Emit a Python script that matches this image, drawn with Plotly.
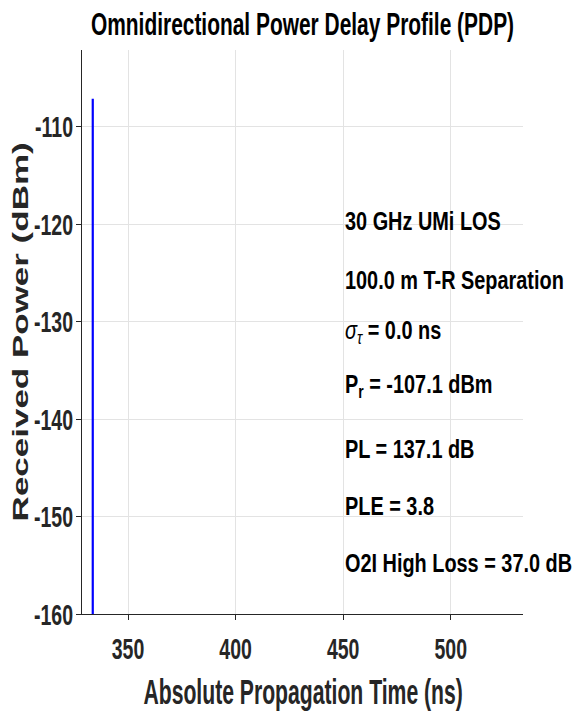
import plotly.graph_objects as go

# Multipath components of the omnidirectional PDP
delay_ns = [333.6]
power_dbm = [-107.1]
floor_dbm = -160.0

# Axis ticks and ranges
x_ticks = [350, 400, 450, 500]
y_ticks = [-160, -150, -140, -130, -120, -110]
y_tick_labels = ["-160", "-150", "-140", "-130", "-120", "-110"]
x_range = [328.6, 533.6]
y_range = [-160.0, -102.1]

# Link summary printed inside the axes
info_lines = [
    "30 GHz UMi LOS",
    "100.0 m T-R Separation",
    '<span style="font-weight:normal"><i>σ</i><sub><i>τ</i></sub></span> = 0.0 ns',
    "P<sub>r</sub> = -107.1 dBm",
    "PL = 137.1 dB",
    "PLE = 3.8",
    "O2I High Loss = 37.0 dB",
]
info_y = [0.697, 0.5925, 0.5, 0.405, 0.2933, 0.1922, 0.0912]

FONT = "Liberation Sans, Arial, Helvetica, sans-serif"
INK = "#262626"
GRID = "#e3e3e3"

fig = go.Figure()
for d, p in zip(delay_ns, power_dbm):
    fig.add_trace(go.Scatter(
        x=[d, d], y=[floor_dbm, p], mode="lines",
        line=dict(color="#0000ff", width=2.2),
        hoverinfo="skip", showlegend=False,
    ))

fig.update_layout(
    width=577, height=711,
    margin=dict(l=82, r=54, t=50, b=97),
    plot_bgcolor="white", paper_bgcolor="white",
    showlegend=False,
    font=dict(family=FONT, color=INK),
    title=dict(
        text="Omnidirectional Power Delay Profile (PDP)",
        x=0.5, xref="paper", xanchor="center",
        y=1 - 24.5 / 711, yref="container", yanchor="middle",
        font=dict(size=31, weight="bold", color="black", family=FONT),
    ),
)

axis_common = dict(
    showgrid=True, gridcolor=GRID, gridwidth=1,
    showline=True, linecolor=INK, linewidth=1,
    ticks="outside", ticklen=5, tickcolor=INK, tickwidth=1,
    tickfont=dict(size=30, weight="bold", color=INK, family=FONT),
    zeroline=False, mirror=False,
)
fig.update_xaxes(range=x_range, tickvals=x_ticks, ticklabelstandoff=3, **axis_common)
fig.update_yaxes(range=y_range, tickvals=y_ticks, ticktext=y_tick_labels,
                 ticklabelstandoff=-3, **axis_common)

for txt, yy in zip(info_lines, info_y):
    fig.add_annotation(
        text=txt, x=(343 - 82) / 441, y=yy, xref="paper", yref="paper",
        xanchor="left", yanchor="middle", align="left", showarrow=False,
        font=dict(size=25.5, weight="bold", color="black", family=FONT),
    )

# Axis titles
fig.add_annotation(
    text="Absolute Propagation Time (ns)", x=0.5, y=(614.5 - 692) / 564.5,
    xref="paper", yref="paper", xanchor="center", yanchor="middle",
    showarrow=False, font=dict(size=35, weight="bold", color=INK, family=FONT),
)
fig.add_annotation(
    text="Received Power (dBm)", x=(19.5 - 82) / 441, y=0.5,
    xref="paper", yref="paper", xanchor="center", yanchor="middle",
    textangle=-90, showarrow=False,
    font=dict(size=35, weight="bold", color=INK, family=FONT),
)

# Condense the lettering horizontally (narrow figure typography)
condense_js = """
var gd = document.getElementById('{plot_id}');
var nInfo = %d;
gd.querySelectorAll('.main-svg text').forEach(function(t){
  try {
    if (!t.textContent.trim()) return;
    var k = 0.65, leftEdge = false;
    if (t.classList.contains('gtitle')) { k = 0.675; }
    var ann = t.closest('.annotation');
    if (ann) {
      var idx = +ann.getAttribute('data-index');
      if (idx < nInfo) { k = 0.78; leftEdge = true; } else { k = 0.605; }
    }
    var m = t.getCTM();
    var rotated = m ? Math.abs(m.b) > Math.abs(m.a) : false;
    var bb = t.getBBox();
    var tr = t.getAttribute('transform') || '';
    var extra;
    if (!rotated) {
      var anchor = t.getAttribute('text-anchor') || 'start';
      var ax = bb.x;
      if (!leftEdge) {
        if (anchor === 'end') ax = bb.x + bb.width;
        else if (anchor === 'middle') ax = bb.x + bb.width / 2;
      }
      extra = 'translate(' + ax + ',0) scale(' + k + ',1) translate(' + (-ax) + ',0)';
    } else {
      var cy = bb.y + bb.height / 2;
      extra = 'translate(0,' + cy + ') scale(1,' + k + ') translate(0,' + (-cy) + ')';
    }
    t.setAttribute('transform', (tr + ' ' + extra).trim());
  } catch (e) {}
});
""" % len(info_lines)

fig.write_html("out.html", config={"displayModeBar": False}, post_script=condense_js)
